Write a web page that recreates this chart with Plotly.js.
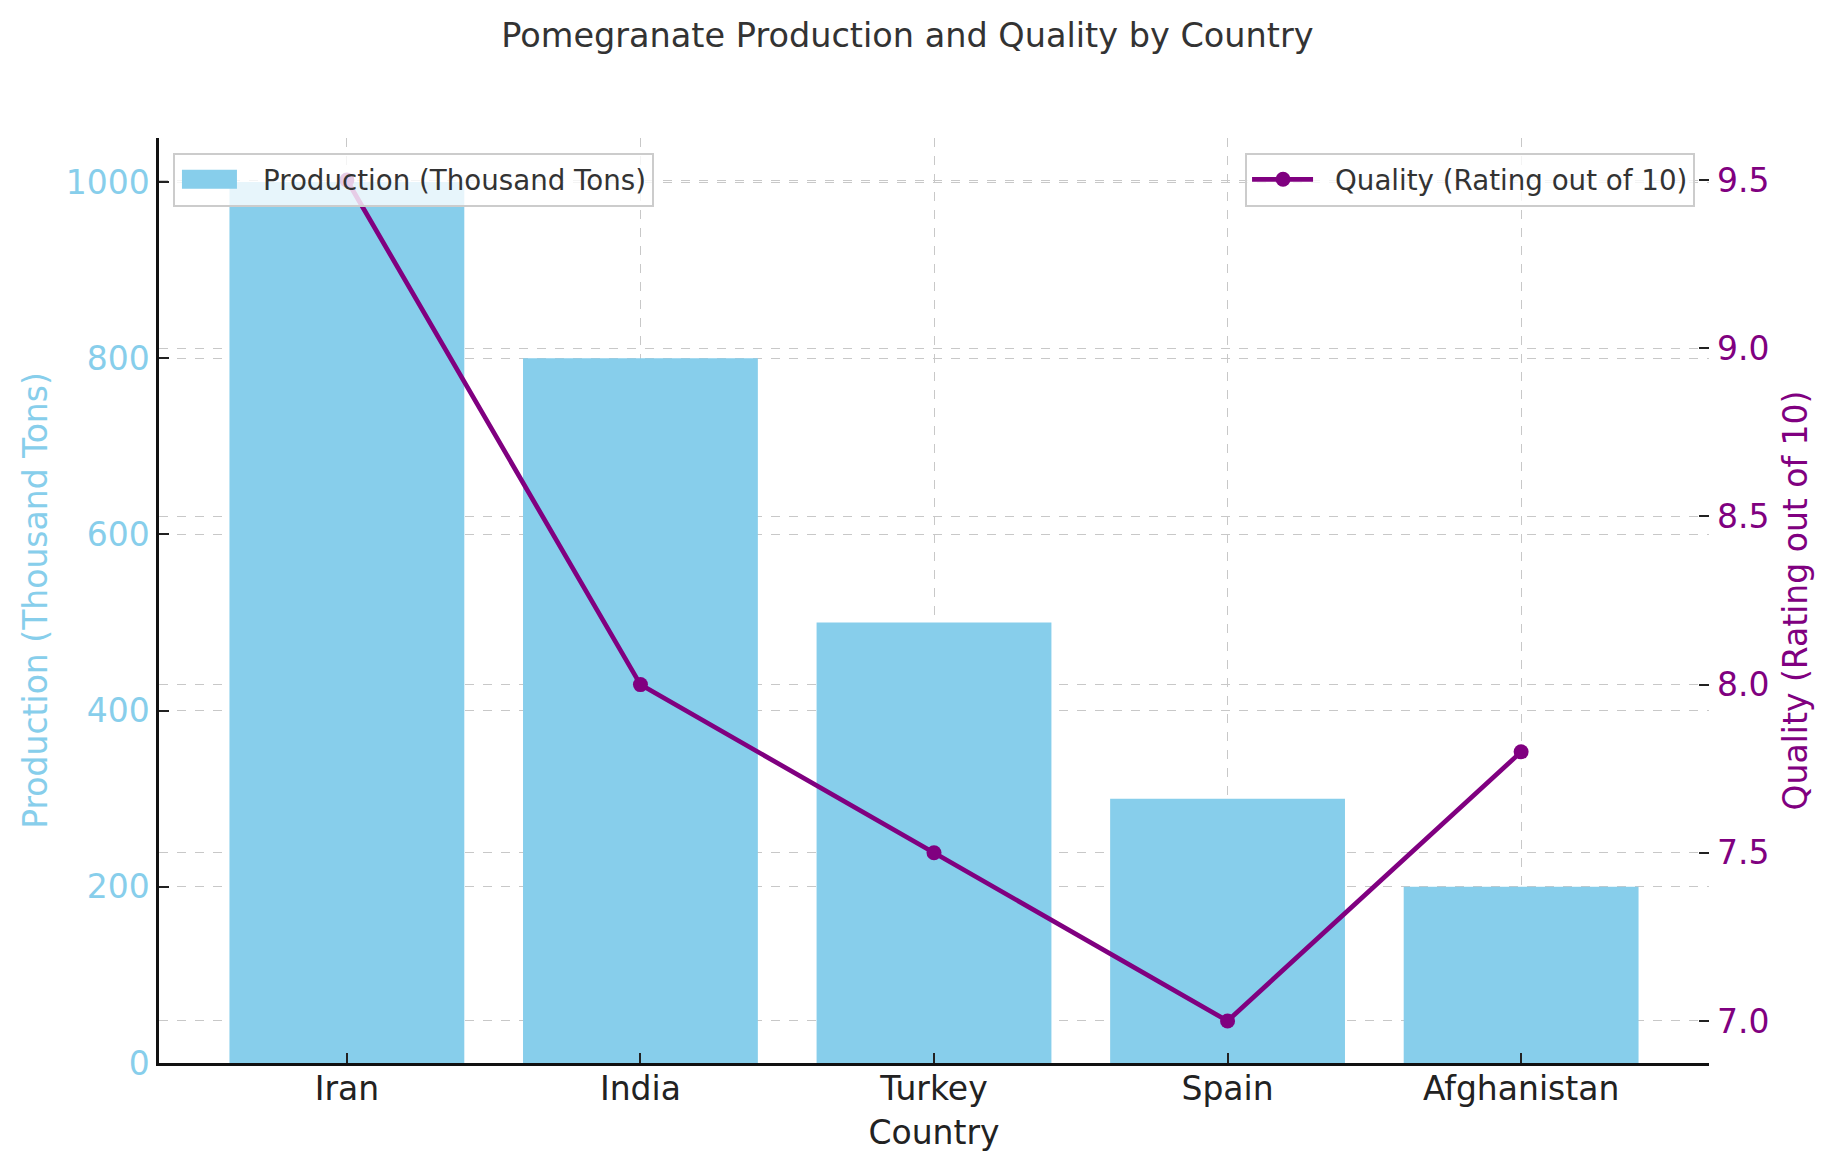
<!DOCTYPE html>
<html>
<head>
<meta charset="utf-8">
<script src="https://cdn.plot.ly/plotly-3.0.1.min.js"></script>
<style>html,body{margin:0;padding:0;background:#fff;}#chart{width:1835px;height:1170px;}</style>
</head>
<body>
<div id="chart"></div>
<script>
const countries = ["Iran", "India", "Turkey", "Spain", "Afghanistan"];
const production = [1000, 800, 500, 300, 200];
const quality = [9.5, 8.0, 7.5, 7.0, 7.8];
const prodTicks = [0, 200, 400, 600, 800, 1000];
const qualTicks = [7.0, 7.5, 8.0, 8.5, 9.0, 9.5];

const FONT = "DejaVu Sans";
const SKY = "#87CEEB";
const PURPLE = "#800080";
const GRID = "#c8c8c8";
const TICKSIZE = 33;

const traces = [
  {
    type: "bar",
    x: countries,
    y: production,
    name: "Production (Thousand Tons)",
    marker: {color: SKY},
    width: 0.8,
    xaxis: "x",
    yaxis: "y",
    legend: "legend"
  },
  {
    type: "scatter",
    mode: "lines+markers",
    x: countries,
    y: quality,
    name: "Quality (Rating out of 10)",
    line: {color: PURPLE, width: 4.7},
    marker: {color: PURPLE, size: 15},
    xaxis: "x",
    yaxis: "y2",
    legend: "legend2"
  }
];

const layout = {
  width: 1835,
  height: 1170,
  paper_bgcolor: "#ffffff",
  plot_bgcolor: "#ffffff",
  font: {family: FONT, size: TICKSIZE, color: "#222222"},
  margin: {l: 159, r: 126, t: 138, b: 107, pad: 0},
  showlegend: true,
  title: {
    text: "Pomegranate Production and Quality by Country",
    font: {family: FONT, size: 33.5, color: "#333333"},
    x: 0.4945, xanchor: "center",
    y: 0.97, yanchor: "middle", yref: "container"
  },
  xaxis: {
    type: "category",
    range: [-0.64, 4.64],
    showline: true, linecolor: "#111111", linewidth: 2.5,
    ticks: "inside", ticklen: 10, tickwidth: 1.8, tickcolor: "#222222",
    tickfont: {family: FONT, size: TICKSIZE, color: "#222222"},
    ticklabelstandoff: -5,
    showgrid: true, gridcolor: GRID, griddash: "dash", gridwidth: 1.3,
    zeroline: false,
    title: {text: "Country", font: {family: FONT, size: TICKSIZE, color: "#222222"}, standoff: 14}
  },
  yaxis: {
    range: [0, 1050],
    tickvals: prodTicks,
    ticktext: prodTicks.map(String),
    showline: true, linecolor: "#111111", linewidth: 2.5,
    ticks: "inside", ticklen: 10, tickwidth: 1.8, tickcolor: "#222222",
    tickfont: {family: FONT, size: TICKSIZE, color: SKY},
    showgrid: true, gridcolor: GRID, griddash: "dash", gridwidth: 1.3,
    zeroline: false,
    title: {text: "Production (Thousand Tons)", font: {family: FONT, size: TICKSIZE, color: SKY}, standoff: 9}
  },
  yaxis2: {
    overlaying: "y",
    side: "right",
    range: [6.875, 9.625],
    tickvals: qualTicks,
    ticktext: qualTicks.map(v => v.toFixed(1)),
    showline: false,
    ticks: "inside", ticklen: 10, tickwidth: 1.8, tickcolor: "#222222",
    tickfont: {family: FONT, size: TICKSIZE, color: PURPLE},
    ticklabelstandoff: 7,
    showgrid: true, gridcolor: GRID, griddash: "dash", gridwidth: 1.3,
    zeroline: false,
    title: {text: "Quality (Rating out of 10)", font: {family: FONT, size: TICKSIZE, color: PURPLE}, standoff: 15}
  },
  legend: {
    x: 0.009, xanchor: "left", y: 0.984, yanchor: "top",
    bgcolor: "rgba(255,255,255,0.8)", bordercolor: "#cccccc", borderwidth: 2,
    itemwidth: 78,
    font: {family: FONT, size: 27.7, color: "#333333"}
  },
  legend2: {
    x: 0.991, xanchor: "right", y: 0.984, yanchor: "top",
    bgcolor: "rgba(255,255,255,0.8)", bordercolor: "#cccccc", borderwidth: 2,
    itemwidth: 78,
    font: {family: FONT, size: 27.7, color: "#333333"}
  },
  bargap: 0.2
};

function restyleLegendSymbols() {
  try {
    document.querySelectorAll("#chart g.legendlines path").forEach(p => {
      p.setAttribute("d", "M5,0h61");
    });
    document.querySelectorAll("#chart g.legendpoints path").forEach(p => {
      if (p.classList.contains("scatterpts")) {
        p.setAttribute("transform", "translate(36,0)");
      } else {
        p.setAttribute("transform", "translate(0,0)");
        p.setAttribute("d", "M7,9.5H62V-9.5H7Z");
      }
    });
  } catch (e) {}
}

Plotly.newPlot("chart", traces, layout, {displayModeBar: false, responsive: false}).then(restyleLegendSymbols);
</script>
</body>
</html>
